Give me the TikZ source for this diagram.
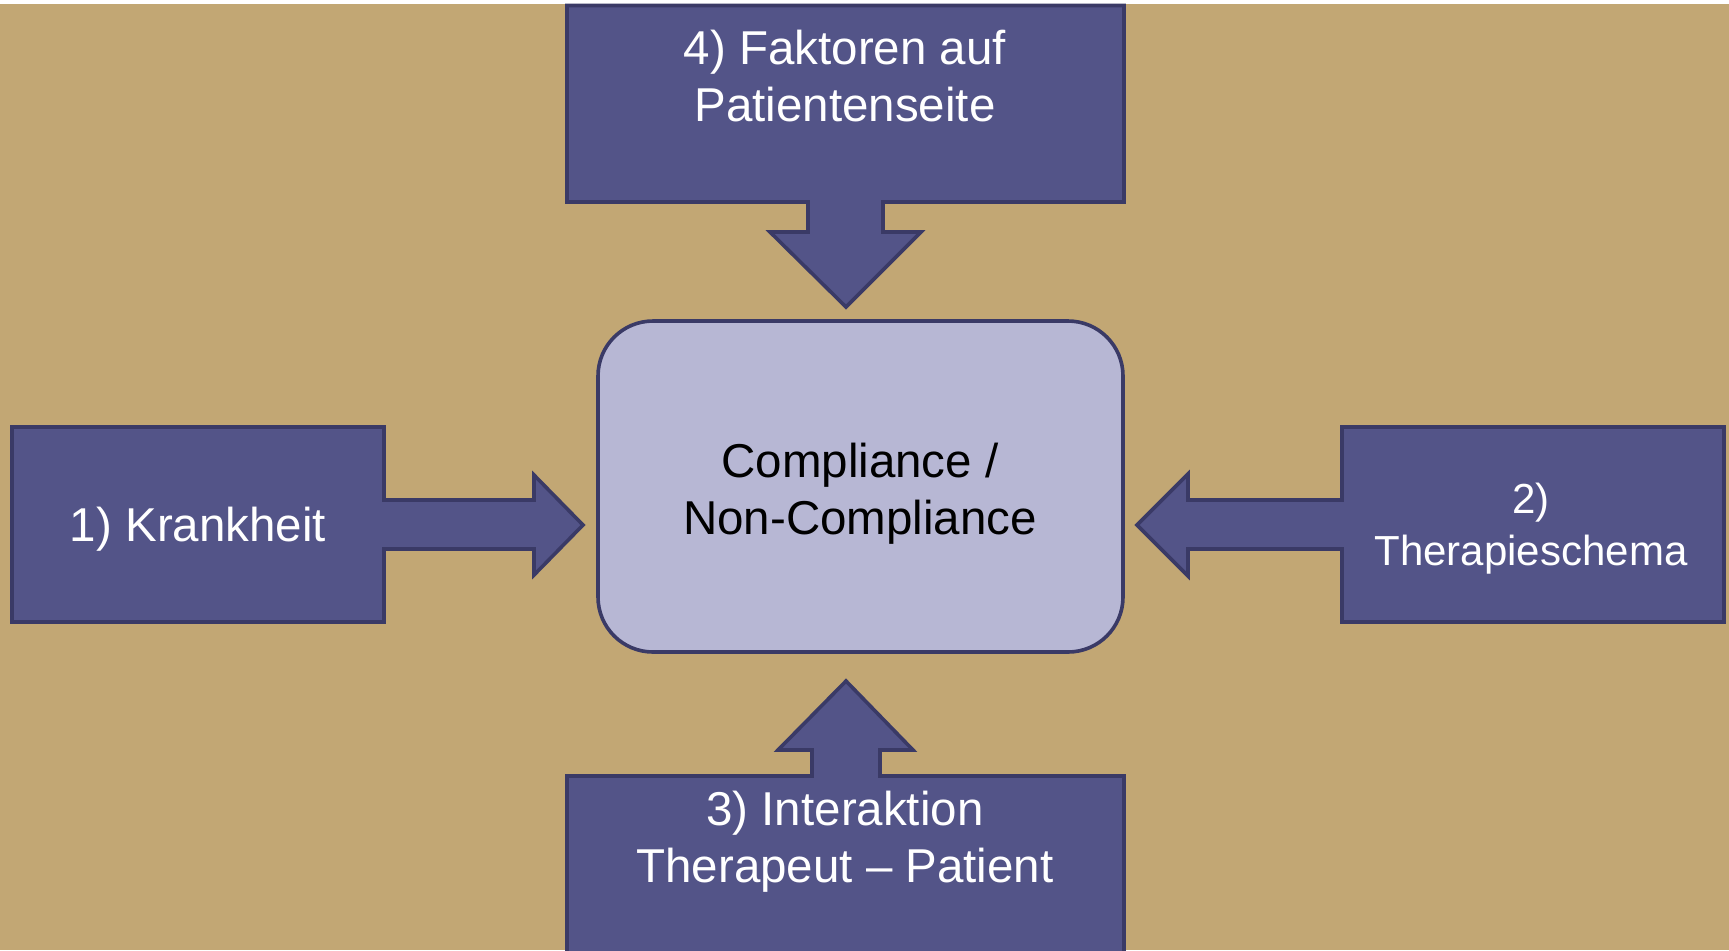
\documentclass[tikz,border=0pt]{standalone}
\usepackage{fontspec}
\setmainfont{Liberation Sans}
\definecolor{sand}{HTML}{C2A774}
\definecolor{boxblue}{HTML}{535488}
\definecolor{boxline}{HTML}{3A3A66}
\definecolor{lightblue}{HTML}{B7B7D4}
\tikzset{
	factor/.style={fill=boxblue, draw=boxline, line width=1.8pt},
	core/.style={fill=lightblue, draw=boxline, line width=1.8pt, rounded corners=27.5pt},
	label/.style={text=white, align=center, font=\fontsize{23.75}{28.5}\selectfont, inner sep=0pt},
}
\begin{document}
\begin{tikzpicture}[x=0.5pt, y=-0.5pt]
	% 1729 x 950 px, y pointing down
	\useasboundingbox (0, 0) rectangle (1729, 950);
	\fill[sand] (0, 4) rectangle (1729, 950);
	% 4) patient side - top
	\draw[factor] (567, 5.5) -- (1124, 5.5) -- (1124, 202) -- (883, 202) -- (883, 232) -- (921, 232)
		-- (846, 307) -- (770, 232) -- (808, 232) -- (808, 202) -- (567, 202) -- cycle;
	% 1) illness - left
	\draw[factor] (12, 427) -- (384, 427) -- (384, 500) -- (534, 500) -- (534, 475)
		-- (583, 525) -- (534, 575) -- (534, 549) -- (384, 549) -- (384, 622) -- (12, 622) -- cycle;
	% 2) therapy scheme - right
	\draw[factor] (1724, 427) -- (1342, 427) -- (1342, 500) -- (1188, 500) -- (1188, 474)
		-- (1137, 525) -- (1188, 576) -- (1188, 549) -- (1342, 549) -- (1342, 622) -- (1724, 622) -- cycle;
	% 3) interaction - bottom
	\draw[factor] (567, 960) -- (567, 776) -- (812, 776) -- (812, 750) -- (778, 750)
		-- (846, 681) -- (913, 750) -- (880, 750) -- (880, 776) -- (1124, 776) -- (1124, 960);
	% centre
	\draw[core] (598, 321) rectangle (1123, 652);
	% texts
	\node[label] (patient) at (845, 76) {4) Faktoren auf\\Patientenseite};
	\node[label] (krank) at (198, 529) {1) Krankheit};
	\node[label, font=\fontsize{21}{26}\selectfont] (schema) at (1531, 529) {2)\\Therapieschema};
	\node[label] (interakt) at (845, 842) {3) Interaktion\\Therapeut -- Patient};
	\node[label, text=black] (compl) at (860, 494) {Compliance /\\Non-Compliance};
\end{tikzpicture}
\end{document}
